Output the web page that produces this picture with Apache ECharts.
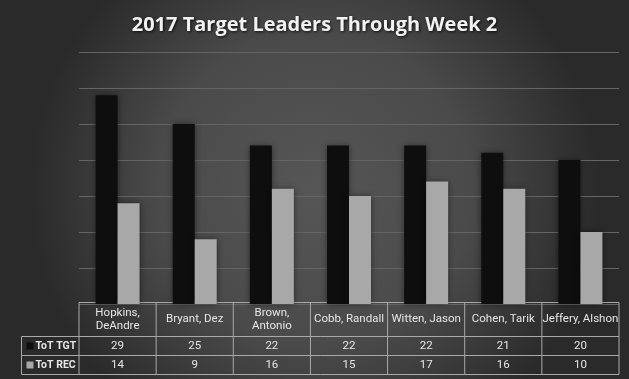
<!DOCTYPE html>
<html><head><meta charset="utf-8">
<script src="https://cdn.jsdelivr.net/npm/echarts@6/dist/echarts.min.js"></script>
<style>html,body{margin:0;padding:0;background:#333}#c{width:629px;height:379px}</style>
</head><body><div id="c"></div>
<script>
const titleText = '2017 Target Leaders Through Week 2';
const categories = ['Hopkins,\nDeAndre', 'Bryant, Dez', 'Brown,\nAntonio', 'Cobb, Randall', 'Witten, Jason', 'Cohen, Tarik', 'Jeffery, Alshon'];
const seriesNames = ['ToT TGT', 'ToT REC'];
const tgtValues = [29, 25, 22, 22, 22, 21, 20];
const recValues = [14, 9, 16, 15, 17, 16, 10];
const seriesColors = ['#0e0e0e', '#a8a8a8'];
const yMin = 0, yMax = 35, yStep = 5;

const tableFont = "Roboto, sans-serif";
const chart = echarts.init(document.getElementById('c'), null, {renderer: 'canvas'});

const option = {
  animation: false,
  backgroundColor: {
    type: 'radial', x: 0.5, y: 0.5, r: 0.75,
    colorStops: [{offset: 0, color: '#565656'}, {offset: 0.55, color: '#4a4a4a'}, {offset: 1, color: '#2a2a2a'}]
  },
  title: {
    text: titleText, left: 'center', top: 10,
    textStyle: {
      color: '#f2f2f2', fontSize: 20, fontWeight: 'bold', fontFamily: "'Open Sans', sans-serif",
      textShadowColor: 'rgba(0,0,0,0.8)', textShadowBlur: 3, textShadowOffsetX: 1, textShadowOffsetY: 1
    }
  },
  grid: {left: 79, right: 10, top: 52, bottom: 75},
  xAxis: {
    type: 'category', data: categories,
    axisLine: {show: false}, axisTick: {show: false}, axisLabel: {show: false}
  },
  yAxis: {
    type: 'value', min: yMin, max: yMax, interval: yStep,
    axisLine: {show: false}, axisTick: {show: false}, axisLabel: {show: false},
    splitLine: {lineStyle: {color: '#646464', width: 1}}
  },
  series: [
    {name: seriesNames[0], type: 'bar', data: tgtValues, barWidth: 22, barGap: '0%',
     itemStyle: {color: seriesColors[0], shadowColor: 'rgba(0,0,0,0.45)', shadowBlur: 6}},
    {name: seriesNames[1], type: 'bar', data: recValues, barWidth: 22, barGap: '0%',
     itemStyle: {color: seriesColors[1], shadowColor: 'rgba(0,0,0,0.45)', shadowBlur: 6}}
  ]
};
chart.setOption(option);

// Build the data table under the plot from the axis scale
const xs = categories.map(c => chart.convertToPixel({xAxisIndex: 0}, c));
const half = (xs[1] - xs[0]) / 2;
const tLeft = xs[0] - half, tRight = xs[xs.length - 1] + half;
const tTop = Math.round(chart.convertToPixel({yAxisIndex: 0}, 0)) - 1.5;
const headerH = 34, rowH = 19, legLeft = 21.5;
const lineStyle = {stroke: '#a9a9a9', lineWidth: 1};
const g = [];
const row1 = tTop + headerH, row2 = row1 + rowH, row3 = row2 + rowH;
g.push({type: 'line', shape: {x1: tLeft, y1: tTop, x2: tRight, y2: tTop}, style: lineStyle});
[row1, row2, row3].forEach(y => g.push({type: 'line', shape: {x1: legLeft, y1: y, x2: tRight, y2: y}, style: lineStyle}));
g.push({type: 'line', shape: {x1: legLeft, y1: row1, x2: legLeft, y2: row3}, style: lineStyle});
for (let i = 0; i <= categories.length; i++) {
  const x = tLeft + i * 2 * half;
  g.push({type: 'line', shape: {x1: x, y1: tTop, x2: x, y2: row3}, style: lineStyle});
}
categories.forEach((c, i) => {
  g.push({type: 'text', x: xs[i], y: tTop + headerH / 2,
    style: {text: c, align: 'center', verticalAlign: 'middle', fill: '#e6e6e6', font: '11.5px ' + tableFont, lineHeight: 13.5}});
});
[tgtValues, recValues].forEach((vals, r) => {
  const yc = (r === 0 ? row1 : row2) + rowH / 2;
  vals.forEach((v, i) => g.push({type: 'text', x: xs[i], y: yc,
    style: {text: String(v), align: 'center', verticalAlign: 'middle', fill: '#e6e6e6', font: '11.5px ' + tableFont}}));
  g.push({type: 'rect', shape: {x: legLeft + 5, y: yc - 3.5, width: 7, height: 7}, style: {fill: seriesColors[r]}});
  g.push({type: 'text', x: legLeft + 14, y: yc,
    style: {text: seriesNames[r], align: 'left', verticalAlign: 'middle', fill: '#e6e6e6', font: 'bold 10.5px ' + tableFont}});
});
chart.setOption({graphic: {elements: g}});
</script>
</body></html>
